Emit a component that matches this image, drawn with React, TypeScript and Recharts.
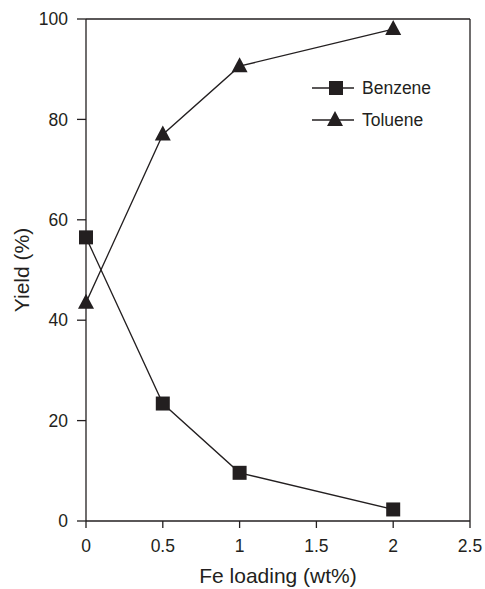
import React from 'react';
import { LineChart, Line, XAxis, YAxis, ReferenceLine } from 'recharts';

const loadings = [0, 0.5, 1, 2];
const benzene = [56.5, 23.4, 9.6, 2.3];
const toluene = [43.5, 77, 90.6, 98];
const xTicks = [0, 0.5, 1, 1.5, 2, 2.5];
const yTicks = [0, 20, 40, 60, 80, 100];
const seriesNames = ['Benzene', 'Toluene'];

const data = loadings.map((x, i) => ({ x, benzene: benzene[i], toluene: toluene[i] }));

const INK = '#231f20';
const FONT = '"Liberation Sans", Arial, Helvetica, sans-serif';

const SquareDot = (props: any) => {
  const { cx, cy } = props;
  if (cx == null || cy == null) return null;
  return <rect x={cx - 7} y={cy - 7} width={14} height={14} fill={INK} />;
};

const TriangleDot = (props: any) => {
  const { cx, cy } = props;
  if (cx == null || cy == null) return null;
  return <polygon points={`${cx},${cy - 9} ${cx - 8},${cy + 6} ${cx + 8},${cy + 6}`} fill={INK} />;
};

// legend drawn as an overlay so it doesn't eat into the plot area
const LegendBox = () => (
  <div style={{ position: 'absolute', left: 312, top: 72, fontFamily: FONT, fontSize: 17.5, color: INK }}>
    {seriesNames.map((name, i) => (
      <div key={name} style={{ display: 'flex', alignItems: 'center', height: 32 }}>
        <svg width={42} height={20}>
          <line x1={0} y1={10} x2={42} y2={10} stroke={INK} strokeWidth={1.3} />
          {i === 0 ? (
            <rect x={17} y={3} width={14} height={14} fill={INK} />
          ) : (
            <polygon points="23,1 15,16 31,16" fill={INK} />
          )}
        </svg>
        <span style={{ marginLeft: 8 }}>{name}</span>
      </div>
    ))}
  </div>
);

export default function App() {
  return (
    <div style={{ position: 'absolute', left: 0, top: 0, width: 485, height: 589, background: '#fff' }}>
      <LineChart width={485} height={589} data={data} margin={{ top: 19, right: 15, left: 0, bottom: 0 }}>
        <XAxis
          dataKey="x"
          type="number"
          domain={[0, 2.5]}
          ticks={xTicks}
          height={68}
          tickSize={7}
          tickMargin={12}
          stroke={INK}
          strokeWidth={1.3}
          tick={{ fill: INK, fontSize: 17.5, fontFamily: FONT }}
          label={{ value: 'Fe loading (wt%)', position: 'insideBottom', offset: 6, fill: INK, fontSize: 21, fontFamily: FONT }}
        />
        <YAxis
          type="number"
          domain={[0, 100]}
          ticks={yTicks}
          width={86}
          tickSize={9}
          tickMargin={9}
          stroke={INK}
          strokeWidth={1.3}
          tick={{ fill: INK, fontSize: 17.5, fontFamily: FONT }}
          label={{ value: 'Yield (%)', angle: -90, position: 'insideLeft', offset: 22, fill: INK, fontSize: 21, fontFamily: FONT, style: { textAnchor: 'middle' } }}
        />
        <ReferenceLine y={100} stroke={INK} strokeWidth={1.3} />
        <ReferenceLine x={2.5} stroke={INK} strokeWidth={1.3} />
        <Line dataKey="benzene" name="Benzene" stroke={INK} strokeWidth={1.3} dot={<SquareDot />} isAnimationActive={false} />
        <Line dataKey="toluene" name="Toluene" stroke={INK} strokeWidth={1.3} dot={<TriangleDot />} isAnimationActive={false} />
      </LineChart>
      <LegendBox />
    </div>
  );
}
